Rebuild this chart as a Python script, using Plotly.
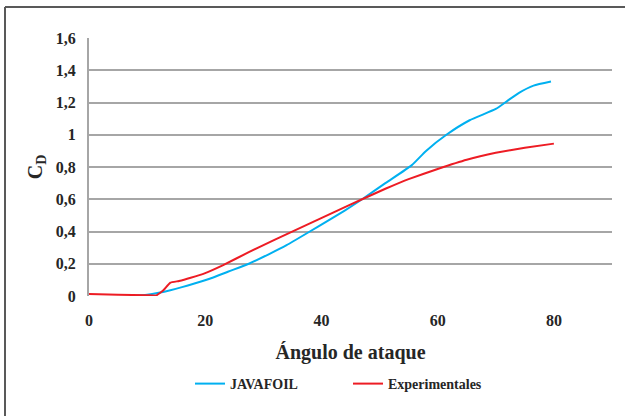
import plotly.graph_objects as go

# Data
java_x = [7, 10, 12, 14, 16, 18, 21, 24, 27.5, 31, 34, 38, 41, 44, 47, 51, 55.5, 58, 61.5, 65.5, 70, 72, 74, 76.5, 79.5]
java_y = [0, 0.008, 0.02, 0.036, 0.055, 0.076, 0.11, 0.152, 0.2, 0.26, 0.315, 0.4, 0.465, 0.53, 0.6, 0.7, 0.81, 0.9, 1.0, 1.09, 1.16, 1.21, 1.26, 1.305, 1.33]

exp_x = [0, 5, 10, 11.6, 12.8, 14, 15.5, 17.5, 20, 23, 27.5, 32, 37, 42, 47, 51, 55, 60, 65, 70, 75, 80]
exp_y = [0.012, 0.008, 0.005, 0.004, 0.035, 0.083, 0.093, 0.113, 0.142, 0.19, 0.272, 0.35, 0.433, 0.517, 0.6, 0.665, 0.725, 0.788, 0.845, 0.888, 0.92, 0.945]

x_ticks = [0, 20, 40, 60, 80]
y_ticks = [0, 0.2, 0.4, 0.6, 0.8, 1.0, 1.2, 1.4, 1.6]
y_tick_text = ["0", "0,2", "0,4", "0,6", "0,8", "1", "1,2", "1,4", "1,6"]

FONT = "Liberation Serif"
W, H = 625, 416
L, R, T, B = 89, 13, 38, 120

fig = go.Figure()
fig.add_trace(go.Scatter(x=java_x, y=java_y, mode="lines", name="JAVAFOIL",
                         line=dict(color="#00b0f0", width=2, shape="spline", smoothing=0.5)))
fig.add_trace(go.Scatter(x=exp_x, y=exp_y, mode="lines", name="Experimentales",
                         line=dict(color="#ed1c24", width=2, shape="spline", smoothing=0.3)))

pw = W - L - R
ph = H - T - B
def px_x(p):
    return (p - L) / pw
def px_y(p):
    return (H - B - p) / ph

# outer chart frame (left and top edges visible)
fig.add_shape(type="line", xref="paper", yref="paper",
              x0=px_x(5), y0=px_y(7), x1=px_x(5), y1=px_y(420),
              line=dict(color="#595959", width=2))
fig.add_shape(type="line", xref="paper", yref="paper",
              x0=px_x(5), y0=px_y(7), x1=px_x(630), y1=px_y(7),
              line=dict(color="#595959", width=2))

fig.update_layout(
    width=W, height=H,
    margin=dict(l=L, r=R, t=T, b=B, autoexpand=False),
    paper_bgcolor="white", plot_bgcolor="white",
    font=dict(family=FONT, color="#262626"),
    showlegend=True,
    legend=dict(orientation="h", x=px_x(190), xanchor="left", y=px_y(384), yanchor="middle",
                font=dict(family=FONT, size=14, color="#262626", weight="bold"),
                entrywidth=113, entrywidthmode="pixels", tracegroupgap=0),
    xaxis=dict(range=[0, 90], tickvals=x_ticks, showgrid=False, zeroline=False,
               showline=False, ticks="outside", ticklen=10, tickcolor="rgba(0,0,0,0)",
               tickfont=dict(family=FONT, size=16, color="#262626", weight="bold"),
               title=dict(text="Ángulo de ataque", standoff=16,
                          font=dict(family=FONT, size=20, color="#262626", weight="bold"))),
    yaxis=dict(range=[0, 1.6], tickvals=y_ticks, ticktext=y_tick_text,
               showgrid=True, gridcolor="#a6a6a6", gridwidth=2,
               zeroline=False, showline=True, linecolor="#a6a6a6", linewidth=2,
               ticks="outside", ticklen=8, tickcolor="rgba(0,0,0,0)",
               tickfont=dict(family=FONT, size=16, color="#262626", weight="bold"),
               title=dict(text="C<sub>D</sub>", standoff=8,
                          font=dict(family=FONT, size=20, color="#262626", weight="bold"))),
)

fig.write_html("out.html", config={"displayModeBar": False},
               post_script="document.body.style.margin='0';")
